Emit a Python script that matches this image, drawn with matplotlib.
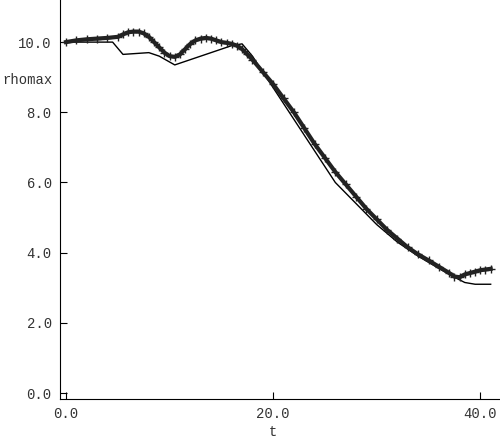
import matplotlib.pyplot as plt
import numpy as np

# marked series (rhomax, crosses)
t_mark = [0, 1, 2, 3, 4, 5, 5.5, 6, 6.5, 7, 7.5, 8, 8.5, 9, 9.5, 10, 10.5, 11, 11.5, 12, 12.5,
          13, 13.5, 14, 14.5, 15, 15.5, 16, 16.5, 17, 17.5, 18, 19, 20, 21, 22, 23, 24, 25, 26,
          27, 28, 29, 30, 31, 32, 33, 34, 35, 36, 37, 37.5, 38, 38.5, 39, 39.5, 40, 40.5, 41]
rho_mark = [10.0, 10.05, 10.08, 10.1, 10.12, 10.15, 10.22, 10.28, 10.3, 10.3, 10.25, 10.15, 10.0,
            9.85, 9.7, 9.6, 9.58, 9.65, 9.8, 9.95, 10.05, 10.1, 10.12, 10.1, 10.05, 10.0, 9.98,
            9.95, 9.9, 9.8, 9.65, 9.5, 9.15, 8.8, 8.4, 8.0, 7.55, 7.1, 6.7, 6.3, 5.95, 5.6, 5.25,
            4.95, 4.65, 4.4, 4.15, 3.95, 3.78, 3.6, 3.42, 3.32, 3.3, 3.38, 3.42, 3.46, 3.5, 3.52, 3.54]

# thin reference line
t_line = [0, 4.5, 5.5, 8, 9, 10.5, 12, 14, 16, 17, 18, 19, 20, 22, 24, 26, 28, 30, 32, 34, 36,
          37.5, 38.5, 39.5, 41]
rho_line = [10.0, 10.0, 9.65, 9.7, 9.6, 9.35, 9.5, 9.7, 9.9, 9.95, 9.6, 9.15, 8.7, 7.8, 6.9,
            6.0, 5.4, 4.8, 4.3, 3.9, 3.55, 3.3, 3.15, 3.1, 3.1]

xticks = [0.0, 20.0, 40.0]
yticks = [0.0, 2.0, 4.0, 6.0, 8.0, 10.0]

plt.rcParams['font.family'] = ['Liberation Mono', 'DejaVu Sans Mono']
fig = plt.figure(figsize=(5.0, 4.41), dpi=100)
ax = fig.add_axes([60 / 500, 1 - 399 / 441, 440 / 500, 399 / 441])

ax.plot(t_line, rho_line, color='black', lw=1.0)
ax.plot(t_mark, rho_mark, color='#222222', lw=3.0, marker='+', markersize=6, markeredgewidth=1.0)

ax.set_xlim(-0.58, 41.9)
ax.set_ylim(-0.17, 11.2)
ax.set_xticks(xticks)
ax.set_xticklabels(['%.1f' % v for v in xticks])
ax.set_yticks(yticks)
ax.set_yticklabels(['%.1f' % v for v in yticks])
ax.tick_params(direction='in', length=5, labelsize=10, color='black', labelcolor='#333333', pad=6)
for s in ['top', 'right']:
    ax.spines[s].set_visible(False)

fig.text(27 / 500, 1 - 80 / 441, 'rhomax', ha='center', va='center', fontsize=10, color='#333333')
fig.text(273 / 500, 1 - 432 / 441, 't', ha='center', va='center', fontsize=10, color='#333333')

fig.savefig('out.png', dpi=100)
